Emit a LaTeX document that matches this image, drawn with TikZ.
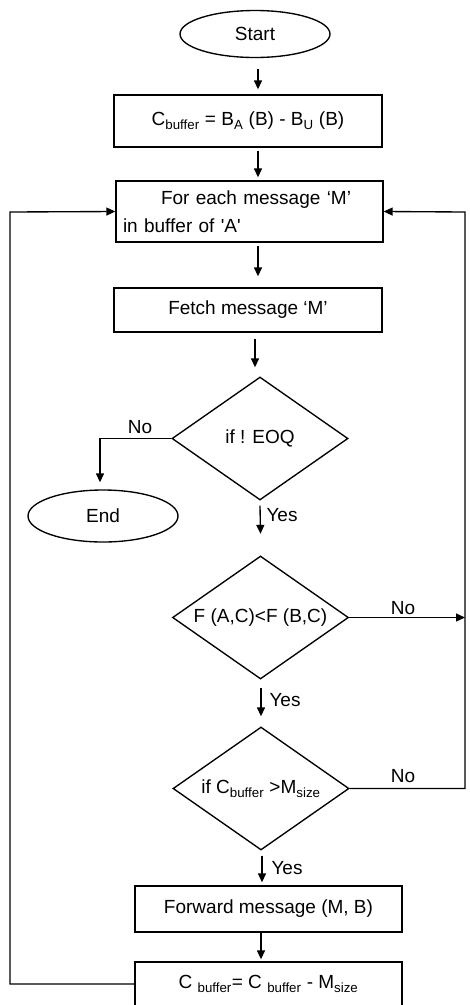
\documentclass[tikz,border=0pt]{standalone}
\usepackage{fontspec}
\setmainfont{Liberation Sans}
\usetikzlibrary{shapes.geometric,arrows.meta,calc}
\begin{document}
\begin{tikzpicture}[x=1pt,y=-1pt,
  font=\fontsize{19}{28}\selectfont,
  line width=1.35pt,
  box/.style={draw, rectangle, inner sep=0pt},
  term/.style={draw, ellipse, inner sep=0pt, minimum width=150pt},
  dec/.style={draw, diamond, shape aspect=1.43, inner sep=0pt, minimum width=176pt, minimum height=123pt},
  arr/.style={-{Triangle[length=9pt,width=8pt]}},
  lbl/.style={inner sep=0pt}
]
\useasboundingbox (0,0) rectangle (470,1005);

\node[term, minimum height=47pt] (start) at (255,34) {Start};
\node[box, minimum width=268pt, minimum height=52pt] (cb) at (248,121)
  {C\textsubscript{buffer} = B\textsubscript{A} (B) - B\textsubscript{U} (B)};
\node[box, minimum width=267pt, minimum height=61pt, text width=253pt, align=left] (each) at (249.5,211.5)
  {\hspace*{38pt}\makebox[205pt][s]{For each message `M'}\\in buffer of \textquotesingle A\textquotesingle};
\node[box, minimum width=268pt, minimum height=44pt] (fetch) at (248,310) {Fetch message `M'};
\node[dec] (d1) at (260,438.5) {if ! EOQ};
\node[term, minimum height=52pt] (endn) at (103,516) {End};
\node[dec] (d2) at (260.5,617.5) {F (A,C)<F (B,C)};
\node[dec] (d3) at (261,788.5) {if C\textsubscript{buffer} >M\textsubscript{size}};
\node[box, minimum width=267pt, minimum height=46pt] (fwd) at (268.5,909) {Forward message (M, B)};
\node[box, minimum width=267pt, minimum height=44pt] (last) at (268.5,984)
  {C \textsubscript{buffer}= C \textsubscript{buffer} - M\textsubscript{size}};

\coordinate (rt) at (465,212);
\coordinate (lt) at (10,212);

\draw[arr] ($(start.south)+(3,11)$) -- ($(cb.north)+(10,-5)$);
\draw[arr] ($(cb.south)+(10,3)$) -- ($(each.north)+(8.5,-3)$);
\draw[arr] ($(each.south)+(8.5,3)$) -- ($(fetch.north)+(10,-11)$);
\draw[arr] ($(fetch.south)+(7,6)$) -- ($(d1.north)+(-5,-9)$);
\draw[arr] ($(d1.south)+(0,5)$) -- ($(d2.north)+(0,-21.5)$);
\draw[arr] ($(d2.south)+(0.5,8)$) -- ($(d3.north)+(0,-10)$);
\draw[arr] ($(d3.south)+(1,5)$) -- ($(fwd.north)+(-6.5,-3)$);
\draw[arr] ($(fwd.south)+(-7.5,0)$) -- ($(last.north)+(-7.5,-2)$);

\draw[arr] (d1.west) -| ($(endn.north)+(-3,-7)$);
\draw[arr] (d2.east) -- (d2.east -| rt);
\draw[arr] (d3.east) -| (rt) -- (each.east);
\draw[arr] (last.west) -| (lt) -- (each.west);

\node[lbl] (no1) at (140,427) {No};
\node[lbl] (yes1) at (282,515) {Yes};
\node[lbl] (no2) at (403,608) {No};
\node[lbl] (yes2) at (285,700) {Yes};
\node[lbl] (no3) at (403,776) {No};
\node[lbl] (yes3) at (287,868) {Yes};
\end{tikzpicture}
\end{document}
